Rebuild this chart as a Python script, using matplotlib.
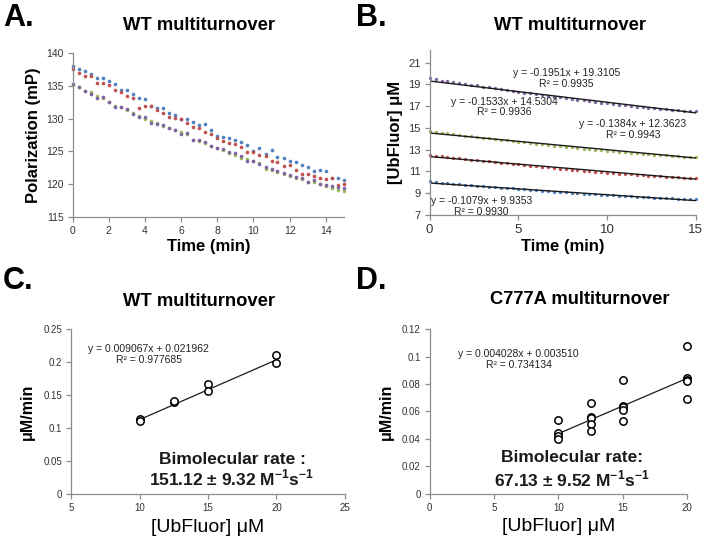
import numpy as np
import matplotlib
matplotlib.use('Agg')
import matplotlib.pyplot as plt

plt.rcParams['font.family'] = ['Liberation Sans', 'DejaVu Sans']
plt.rcParams['mathtext.fontset'] = 'custom'
plt.rcParams['mathtext.rm'] = 'Liberation Sans'
plt.rcParams['mathtext.bf'] = 'Liberation Sans:bold'

# time points (min), one read every 20 s
time_min = [0, 0.33, 0.67, 1, 1.33, 1.67, 2, 2.33, 2.67, 3,
            3.33, 3.67, 4, 4.33, 4.67, 5, 5.33, 5.67, 6, 6.33,
            6.67, 7, 7.33, 7.67, 8, 8.33, 8.67, 9, 9.33, 9.67,
            10, 10.33, 10.67, 11, 11.33, 11.67, 12, 12.33, 12.67, 13,
            13.33, 13.67, 14, 14.33, 14.67, 15]

# panel A: polarization (mP)
pol_blue = [138.1, 137.6, 137.3, 136.8, 136.2, 136.2, 135.8, 135.3, 134.4, 134.3,
            133.7, 133.2, 133.0, 132.0, 131.6, 131.6, 130.9, 130.6, 130.0, 130.0,
            129.5, 129.0, 129.2, 128.3, 127.3, 127.2, 127.0, 126.7, 126.4, 126.0,
            125.1, 125.6, 124.6, 125.3, 124.2, 124.0, 123.5, 123.4, 123.0, 122.6,
            122.0, 122.2, 122.0, 121.0, 121.0, 120.7]
pol_red = [137.6, 137.0, 136.5, 136.5, 135.4, 135.4, 135.2, 134.4, 134.0, 133.5,
           133.2, 131.7, 132.0, 131.9, 131.3, 130.8, 130.3, 130.1, 129.9, 129.4,
           128.7, 128.6, 128.0, 127.6, 127.0, 126.6, 126.3, 126.2, 125.7, 124.9,
           124.9, 124.5, 124.3, 123.6, 123.4, 122.8, 123.0, 122.2, 121.6, 121.6,
           121.3, 120.9, 120.8, 120.9, 119.9, 120.0]
pol_green = [135.1, 134.8, 134.2, 134.0, 133.4, 133.2, 132.6, 132.0, 131.8, 131.3,
             130.8, 130.4, 130.0, 129.7, 129.3, 128.9, 128.6, 128.3, 127.9, 127.6,
             126.8, 126.6, 126.3, 125.8, 125.5, 125.3, 124.8, 124.5, 124.0, 123.9,
             123.5, 123.2, 122.4, 122.2, 121.8, 121.5, 121.3, 121.0, 120.8, 120.4,
             120.4, 120.0, 119.7, 119.5, 119.2, 119.0]
pol_purple = [135.3, 134.9, 134.2, 133.8, 133.2, 133.3, 132.6, 131.8, 131.8, 131.5,
              130.7, 130.3, 130.2, 129.3, 129.2, 129.0, 128.6, 128.3, 127.7, 127.8,
              126.8, 126.8, 126.4, 125.8, 125.5, 125.4, 124.9, 124.7, 124.3, 123.6,
              123.5, 123.1, 122.6, 122.3, 122.0, 121.7, 121.4, 121.1, 120.9, 120.4,
              120.6, 120.1, 119.9, 119.7, 119.6, 119.4]

# panel B: [UbFluor] (uM)
ub_purple = [19.6, 19.45, 19.35, 19.28, 19.2, 19.12, 19.05, 18.95, 18.9, 18.8,
             18.72, 18.63, 18.58, 18.48, 18.4, 18.33, 18.25, 18.18, 18.1, 18.03,
             17.95, 17.88, 17.8, 17.74, 17.66, 17.6, 17.52, 17.46, 17.4, 17.33,
             17.26, 17.2, 17.14, 17.07, 17.01, 16.95, 16.9, 16.86, 16.8, 16.75,
             16.72, 16.68, 16.63, 16.6, 16.58, 16.55]
ub_green = [14.75, 14.62, 14.55, 14.5, 14.43, 14.36, 14.3, 14.23, 14.17, 14.1,
            14.03, 13.97, 13.9, 13.85, 13.78, 13.72, 13.66, 13.6, 13.55, 13.48,
            13.42, 13.37, 13.31, 13.26, 13.2, 13.15, 13.1, 13.04, 12.99, 12.94,
            12.89, 12.84, 12.8, 12.75, 12.7, 12.66, 12.62, 12.58, 12.54, 12.5,
            12.47, 12.43, 12.4, 12.37, 12.35, 12.33]
ub_red = [12.55, 12.45, 12.38, 12.33, 12.27, 12.2, 12.15, 12.08, 12.03, 11.97,
          11.92, 11.85, 11.82, 11.76, 11.7, 11.64, 11.58, 11.53, 11.48, 11.42,
          11.37, 11.32, 11.26, 11.22, 11.17, 11.12, 11.07, 11.02, 10.97, 10.92,
          10.88, 10.84, 10.8, 10.76, 10.72, 10.68, 10.64, 10.6, 10.57, 10.54,
          10.51, 10.48, 10.45, 10.43, 10.41, 10.4]
ub_blue = [10.1, 10.02, 9.97, 9.93, 9.88, 9.84, 9.79, 9.74, 9.7, 9.65,
           9.61, 9.56, 9.52, 9.48, 9.44, 9.39, 9.35, 9.31, 9.27, 9.23,
           9.19, 9.15, 9.11, 9.08, 9.04, 9.0, 8.97, 8.93, 8.9, 8.86,
           8.83, 8.8, 8.77, 8.74, 8.71, 8.68, 8.65, 8.62, 8.6, 8.57,
           8.55, 8.53, 8.51, 8.49, 8.47, 8.46]
# trendlines (slope, intercept) in order purple, green, red, blue
fit_slope = [-0.1951, -0.1533, -0.1384, -0.1079]
fit_icpt = [19.3105, 14.5304, 12.3623, 9.9353]
fit_r2 = ['0.9935', '0.9936', '0.9943', '0.9930']

# panel C: WT rates
wt_conc = [10, 10, 12.5, 12.5, 15, 15, 20, 20]
wt_rate = [0.113, 0.110, 0.140, 0.141, 0.167, 0.156, 0.211, 0.198]
wt_fit = (0.009067, 0.021962)

# panel D: C777A rates
mut_conc = [10, 10, 10, 10, 12.5, 12.5, 12.5, 12.5, 12.5,
            15, 15, 15, 15, 15, 20, 20, 20, 20, 20]
mut_rate = [0.054, 0.044, 0.042, 0.040, 0.066, 0.056, 0.055, 0.051, 0.046,
            0.083, 0.064, 0.063, 0.061, 0.053, 0.108, 0.084, 0.083, 0.082, 0.069]
mut_fit = (0.004028, 0.003510)

c_blue = '#4F81BD'
c_red = '#C0504D'
c_green = '#9BBB59'
c_purple = '#8064A2'
gray = '#8C8C8C'


def excel_axes(ax, tsize=7):
	# only left/bottom spines, gray, outward ticks
	for s in ['top', 'right']:
		ax.spines[s].set_visible(False)
	for s in ['left', 'bottom']:
		ax.spines[s].set_color(gray)
		ax.spines[s].set_linewidth(0.9)
	ax.tick_params(direction='out', length=3.5, width=0.9, color=gray,
	               labelsize=tsize, labelcolor='#333333', pad=3)


fig = plt.figure(figsize=(7.06, 5.36), dpi=100)

# ---- A ----
axA = fig.add_axes([0.103, 0.595, 0.384, 0.306])
for ys, col in zip([pol_blue, pol_red, pol_green, pol_purple],
                   [c_blue, c_red, c_green, c_purple]):
	axA.plot(time_min, ys, 'o', color=col, ms=2.6, mew=0, clip_on=False)
axA.set_xlim(0, 15)
axA.set_ylim(115, 140)
axA.set_xticks(range(0, 15, 2))
axA.set_yticks(range(115, 141, 5))
excel_axes(axA, 7.5)
axA.set_xlabel('Time (min)', fontsize=12, fontweight='bold', labelpad=2)
axA.set_ylabel('Polarization (mP)', fontsize=12, fontweight='bold', labelpad=4)

# ---- B ----
axB = fig.add_axes([0.6086, 0.599, 0.377, 0.3085])
tfit = np.array([0, 15])
for ys, col, m, b in zip([ub_purple, ub_green, ub_red, ub_blue],
                         [c_purple, c_green, c_red, c_blue], fit_slope, fit_icpt):
	axB.plot(time_min, ys, 'o', color=col, ms=2.4, mew=0, clip_on=False)
	axB.plot(tfit, m * tfit + b, '-', color='#1a1a1a', lw=1.0)
axB.set_xlim(0, 15)
axB.set_ylim(7, 22.2)
axB.set_xticks([0, 5, 10, 15])
axB.set_yticks(range(7, 22, 2))
excel_axes(axB, 8)
axB.tick_params(axis='x', labelsize=9.5)
axB.set_xlabel('Time (min)', fontsize=12, fontweight='bold', labelpad=2)
axB.set_ylabel('[UbFluor] \u03bcM', fontsize=12, fontweight='bold', labelpad=4)
eq_pos = [(7.7, 19.55), (4.2, 16.93), (11.45, 14.87), (2.9, 7.8)]
for (x, y), m, b, r2 in zip(eq_pos, fit_slope, fit_icpt, fit_r2):
	axB.text(x, y, 'y = %.4fx + %.4f\nR\u00b2 = %s' % (m, b, r2), fontsize=7.5,
	         ha='center', va='center', color='#222222', linespacing=1.1,
	         clip_on=False)

# ---- C ----
axC = fig.add_axes([0.1006, 0.0784, 0.388, 0.3078])
xc = np.array([10, 20])
axC.plot(xc, wt_fit[0] * xc + wt_fit[1], '-', color='#1a1a1a', lw=0.9)
axC.plot(wt_conc, wt_rate, 'o', mfc='white', mec='black', ms=5.3, mew=1.1, clip_on=False)
axC.set_xlim(5, 25)
axC.set_ylim(0, 0.25)
axC.set_xticks([5, 10, 15, 20, 25])
axC.set_yticks([0, 0.05, 0.1, 0.15, 0.2, 0.25])
axC.set_yticklabels(['0', '0.05', '0.1', '0.15', '0.2', '0.25'])
excel_axes(axC, 7)
axC.set_xlabel('[UbFluor] \u03bcM', fontsize=14, labelpad=4)
axC.set_ylabel('\u03bcM/min', fontsize=11.5, fontweight='bold', labelpad=6)
axC.text(10.67, 0.211, 'y = %.6fx + %.6f\nR\u00b2 = 0.977685' % wt_fit,
         fontsize=7.5, ha='center', va='center', color='#222222', linespacing=1.1)
axC.text(16.75, 0.0515, 'Bimolecular rate :', fontsize=12.5, fontweight='bold',
         ha='center', va='center', color='#1a1a1a')
axC.text(16.75, 0.0235, r'151.12 $\mathbf{\pm}$ 9.32 M$^{\mathbf{-1}}$s$^{\mathbf{-1}}$',
         fontsize=12.5, fontweight='bold', ha='center', va='center', color='#1a1a1a')

# ---- D ----
axD = fig.add_axes([0.6086, 0.0789, 0.3645, 0.3071])
xd = np.array([10, 20])
axD.plot(xd, mut_fit[0] * xd + mut_fit[1], '-', color='#1a1a1a', lw=0.9)
axD.plot(mut_conc, mut_rate, 'o', mfc='white', mec='black', ms=5.3, mew=1.1, clip_on=False)
axD.set_xlim(0, 20)
axD.set_ylim(0, 0.12)
axD.set_xticks([0, 5, 10, 15, 20])
axD.set_yticks([0, 0.02, 0.04, 0.06, 0.08, 0.1, 0.12])
axD.set_yticklabels(['0', '0.02', '0.04', '0.06', '0.08', '0.1', '0.12'])
excel_axes(axD, 7)
axD.set_xlabel('[UbFluor] \u03bcM', fontsize=14, labelpad=4)
axD.set_ylabel('\u03bcM/min', fontsize=11.5, fontweight='bold', labelpad=6)
axD.text(6.92, 0.098, 'y = %.6fx + %.6f\nR\u00b2 = 0.734134' % mut_fit,
         fontsize=7.5, ha='center', va='center', color='#222222', linespacing=1.1)
axD.text(11.06, 0.0262, 'Bimolecular rate:', fontsize=12.5, fontweight='bold',
         ha='center', va='center', color='#1a1a1a')
axD.text(11.06, 0.0108, r'67.13 $\mathbf{\pm}$ 9.52 M$^{\mathbf{-1}}$s$^{\mathbf{-1}}$',
         fontsize=12.5, fontweight='bold', ha='center', va='center', color='#1a1a1a')

# panel letters and titles (figure pixel positions / size)
W, H = 706.0, 536.0
for lab, x, y in [('A.', 3, 18), ('B.', 356, 18), ('C.', 3, 281), ('D.', 356, 281)]:
	fig.text(x / W, 1 - y / H, lab, fontsize=22, fontweight='bold', va='center')
for t, x, y in [('WT multiturnover', 199, 25), ('WT multiturnover', 570, 25),
                ('WT multiturnover', 199, 301), ('C777A multiturnover', 580, 300)]:
	fig.text(x / W, 1 - y / H, t, fontsize=13.2, fontweight='bold', ha='center', va='center')

fig.savefig('out.png', dpi=100)
